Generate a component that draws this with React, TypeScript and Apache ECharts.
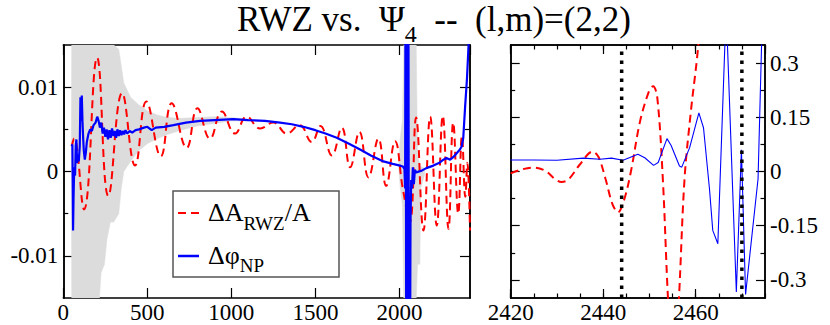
import React, { useEffect, useRef } from "react";
import * as echarts from "echarts";

const FONT = "Times New Roman";

// ---------- data: left panel ----------
const leftXRange = [0, 2420];
const leftYRange = [-0.015, 0.015];
const leftXInterval = 500;
const leftYMajor = [-0.01, 0, 0.01];
const leftYMinor = [-0.005, 0.005];

// grey envelope [x, low, high]
const bandEarly: number[][] = [
  [48, 0.003, 0.0031],
  [50, -0.015, 0.015],
  [215, -0.015, 0.015],
  [225, -0.012, 0.015],
  [245, -0.011, 0.015],
  [260, -0.008, 0.015],
  [280, -0.006, 0.015],
  [300, -0.006, 0.015],
  [330, -0.005, 0.0145],
  [345, -0.002, 0.0125],
  [360, 0.0, 0.0105],
  [400, 0.0012, 0.0088],
  [450, 0.0025, 0.0079],
  [500, 0.0033, 0.0072],
  [560, 0.0039, 0.0067],
  [620, 0.0044, 0.0064],
  [700, 0.0049, 0.0063],
  [800, 0.0054, 0.0064],
  [900, 0.0057, 0.0065],
  [1000, 0.006, 0.0064],
  [1100, 0.006, 0.0062],
];
const bandLate: number[][] = [
  [1995, 0.0006, 0.001],
  [2005, -0.002, 0.004],
  [2018, -0.004, 0.006],
  [2026, -0.015, 0.015],
  [2100, -0.015, 0.015],
  [2108, -0.011, 0.002],
  [2122, -0.011, 0.0008],
  [2126, -0.002, 0.0006],
  [2150, -0.0004, 0.0004],
];

// Delta A_RWZ / A  (red dashed)
const ampLeft: number[][] = [
  [50, 0.003], [64, 0.0039], [123, -0.0045], [201, 0.0135], [268, -0.0029],
  [350, 0.0093], [427, 0.0007], [494, 0.0083], [580, 0.0018], [645, 0.0081],
  [734, 0.0028], [798, 0.0075], [873, 0.0039], [943, 0.0071], [1022, 0.0045],
  [1092, 0.0065], [1171, 0.0051], [1250, 0.0058], [1330, 0.0045], [1405, 0.0055],
  [1478, 0.0035], [1530, 0.0054], [1598, 0.0019], [1657, 0.0052], [1707, 0.0005],
  [1762, 0.0047], [1816, -0.0007], [1875, 0.0039], [1921, -0.0017], [1974, 0.0036],
  [2020, -0.002], [2062, -0.006], [2099, 0.0064], [2143, -0.007], [2183, 0.0065],
  [2222, -0.0064], [2258, 0.0066], [2292, -0.0068], [2320, 0.0058], [2350, -0.005],
  [2372, 0.0042], [2392, -0.003], [2404, 0.001], [2420, -0.007],
];

// Delta phi_NP (blue)
const phaseLeft: number[][] = [
  [50, 0.003], [54, 0.0032], [56, -0.001], [58, -0.007], [61, -0.003], [65, 0.0005],
  [70, -0.0005], [74, 0.003], [78, 0.0038], [82, 0.001], [86, 0.002], [92, 0.0012],
  [98, 0.003], [102, 0.0088], [106, 0.006], [110, 0.009], [114, 0.006], [118, 0.004],
  [122, 0.0025], [128, 0.0014], [134, 0.0022], [140, 0.0035], [150, 0.0045],
  [160, 0.005], [170, 0.0048], [180, 0.0055], [192, 0.0058], [202, 0.0065],
  [210, 0.006], [218, 0.0052], [226, 0.0058], [234, 0.0045], [242, 0.0052],
  [250, 0.0041], [258, 0.005], [266, 0.0038], [274, 0.0049], [282, 0.004],
  [290, 0.0051], [298, 0.0042], [306, 0.0048], [314, 0.004], [322, 0.005],
  [330, 0.0042], [338, 0.0049], [346, 0.0043], [354, 0.0048], [362, 0.0044],
  [370, 0.0049], [380, 0.0045], [395, 0.0048], [410, 0.0046], [430, 0.0049],
  [450, 0.005], [480, 0.0052], [500, 0.0053], [526, 0.0049], [550, 0.0052],
  [600, 0.0053], [655, 0.0055], [730, 0.0058], [814, 0.006], [900, 0.0061],
  [1012, 0.0062], [1100, 0.0061], [1200, 0.006], [1290, 0.0058], [1360, 0.0056],
  [1429, 0.0053], [1500, 0.0049], [1560, 0.0045], [1627, 0.004], [1700, 0.0033],
  [1766, 0.0026], [1830, 0.0019], [1905, 0.0012], [1960, 0.0009], [2004, 0.0007],
  [2020, 0.0006], [2030, 0.0003], [2034, -0.002], [2037, 0.03], [2041, -0.03],
  [2045, 0.03], [2049, -0.03], [2053, 0.03], [2057, -0.03], [2062, -0.03],
  [2066, -0.006], [2070, -0.001], [2075, -0.002], [2080, 0.0005], [2086, -0.0015],
  [2092, 0.0002], [2100, -0.0001], [2133, 0.0001], [2160, 0.0004], [2202, 0.0007],
  [2235, 0.001], [2262, 0.0014], [2280, 0.0016], [2302, 0.0014], [2320, 0.0017],
  [2342, 0.0022], [2360, 0.0026], [2371, 0.003], [2380, 0.004], [2391, 0.0077],
  [2402, 0.011], [2411, 0.0148], [2418, 0.02],
];

// ---------- data: right panel ----------
const rightXRange = [2420, 2475];
const rightYRange = [-0.35, 0.35];
const rightXMajorInterval = 20;
const rightXMinorInterval = 5;
const rightYMajor = [-0.3, -0.15, 0, 0.15, 0.3];
const rightYMinor = [-0.225, -0.075, 0.075, 0.225];
const markerTimes = [2444, 2470];

const ampRight: number[][] = [
  [2420, -0.005], [2422.5, 0.006], [2425, 0.011], [2427.5, 0.002], [2429.5, -0.02],
  [2431, -0.029], [2432.5, -0.022], [2435, 0.02], [2437.7, 0.055], [2439, 0.04],
  [2440.5, -0.02], [2442, -0.09], [2443.2, -0.113], [2444.5, -0.08], [2446, 0.0],
  [2448, 0.14], [2450, 0.225], [2450.8, 0.236], [2451.7, 0.205], [2452.9, -0.02],
  [2454, -0.347], [2455.2, -0.6], [2456.4, -0.347], [2457.6, -0.02], [2459, 0.17],
  [2460.5, 0.34], [2462, 0.6],
];

const phaseRight: number[][] = [
  [2420, 0.032], [2425, 0.032], [2430, 0.031], [2435.7, 0.037], [2439.3, 0.034],
  [2441.8, 0.037], [2444.3, 0.031], [2447.5, 0.048], [2449, 0.038], [2450.9, 0.017],
  [2451.9, 0.025], [2453.8, 0.091], [2454.7, 0.072], [2456.5, 0.015], [2457, 0.012],
  [2458.7, 0.066], [2460.7, 0.162], [2461.7, 0.121], [2463, -0.049], [2463.7, -0.163],
  [2464.8, -0.2], [2466.6, 0.45], [2468.8, -0.333], [2469.9, 0.06], [2470.8, -0.34],
  [2473.5, -0.02], [2474.3, 0.37], [2475, 0.7],
];

// ---------- layout ----------
const G0 = { left: 63.3, top: 45, width: 406.7, height: 253 };
const G1 = { left: 510.7, top: 45, width: 254.3, height: 253 };

const plain = (v: number) => String(v);

function mkAxis(o: any) {
  const axis: any = {
    type: "value",
    gridIndex: o.grid,
    position: o.position,
    min: o.min,
    max: o.max,
    axisLine: { show: true, onZero: false, lineStyle: { color: "#000", width: 1.5 } },
    axisTick: {
      show: true,
      inside: true,
      length: o.tickLen,
      lineStyle: { color: "#000", width: 1.2 },
    },
    axisLabel: { show: false },
    splitLine: { show: false },
    minorTick: { show: false },
    minorSplitLine: { show: false },
  };
  if (o.interval !== undefined) axis.interval = o.interval;
  if (o.tickValues) axis.axisTick.customValues = o.tickValues;
  if (o.labels) {
    axis.axisLabel = {
      show: true,
      margin: o.margin,
      fontSize: 23,
      fontFamily: FONT,
      color: "#000",
      formatter: plain,
      showMaxLabel: o.showMax !== false,
      showMinLabel: true,
    };
    if (o.lineHeight) axis.axisLabel.lineHeight = o.lineHeight;
    if (o.labelValues) axis.axisLabel.customValues = o.labelValues;
  }
  return axis;
}

function bandSeries(seg: number[][]) {
  return {
    type: "custom",
    xAxisIndex: 0,
    yAxisIndex: 0,
    silent: true,
    clip: true,
    z: 1,
    data: seg,
    encode: { x: 0, y: [1, 2] },
    renderItem: (params: any, api: any) => {
      if (params.dataIndex !== 0) return null;
      const pts: number[][] = [];
      for (let i = 0; i < seg.length; i++) pts.push(api.coord([seg[i][0], seg[i][2]]));
      for (let i = seg.length - 1; i >= 0; i--) pts.push(api.coord([seg[i][0], seg[i][1]]));
      return {
        type: "polygon",
        shape: { points: pts },
        style: { fill: "#dcdcdc", stroke: "#dcdcdc", lineWidth: 0.5 },
      };
    },
  };
}

export default function App() {
  const ref = useRef<HTMLDivElement>(null);
  useEffect(() => {
    if (!ref.current) return;
    const chart = echarts.init(ref.current, null, { renderer: "svg" });
    const mainTok = { fontSize: 35, fontFamily: FONT, lineHeight: 35, verticalAlign: "top" };
    const subTok = { fontSize: 24, fontFamily: FONT, lineHeight: 24, verticalAlign: "top", padding: [20, 0, 0, 0] };
    const legMain = { fontSize: 26, fontFamily: FONT, lineHeight: 26, verticalAlign: "top" };
    const legSub = { fontSize: 19, fontFamily: FONT, lineHeight: 19, verticalAlign: "top", padding: [14, 0, 0, 0] };

    const option: any = {
      animation: false,
      grid: [
        { ...G0, outerBoundsMode: "none" },
        { ...G1, outerBoundsMode: "none" },
      ],
      xAxis: [
        mkAxis({ grid: 0, position: "bottom", min: leftXRange[0], max: leftXRange[1], interval: leftXInterval, tickLen: 10, labels: true, margin: 6.5, lineHeight: 16, showMax: false }),
        mkAxis({ grid: 0, position: "top", min: leftXRange[0], max: leftXRange[1], interval: leftXInterval, tickLen: 10 }),
        mkAxis({ grid: 1, position: "bottom", min: rightXRange[0], max: rightXRange[1], interval: rightXMajorInterval, tickLen: 9, labels: true, margin: 6.5, lineHeight: 16, showMax: false }),
        mkAxis({ grid: 1, position: "bottom", min: rightXRange[0], max: rightXRange[1], interval: rightXMinorInterval, tickLen: 4.5 }),
        mkAxis({ grid: 1, position: "top", min: rightXRange[0], max: rightXRange[1], interval: rightXMajorInterval, tickLen: 9 }),
        mkAxis({ grid: 1, position: "top", min: rightXRange[0], max: rightXRange[1], interval: rightXMinorInterval, tickLen: 4.5 }),
      ],
      yAxis: [
        mkAxis({ grid: 0, position: "left", min: leftYRange[0], max: leftYRange[1], tickValues: leftYMajor, labelValues: leftYMajor, tickLen: 10, labels: true, margin: 5 }),
        mkAxis({ grid: 0, position: "left", min: leftYRange[0], max: leftYRange[1], tickValues: leftYMinor, tickLen: 5 }),
        mkAxis({ grid: 0, position: "right", min: leftYRange[0], max: leftYRange[1], tickValues: leftYMajor, tickLen: 10 }),
        mkAxis({ grid: 0, position: "right", min: leftYRange[0], max: leftYRange[1], tickValues: leftYMinor, tickLen: 5 }),
        mkAxis({ grid: 1, position: "right", min: rightYRange[0], max: rightYRange[1], tickValues: rightYMajor, labelValues: rightYMajor, tickLen: 9, labels: true, margin: 5 }),
        mkAxis({ grid: 1, position: "right", min: rightYRange[0], max: rightYRange[1], tickValues: rightYMinor, tickLen: 4.5 }),
        mkAxis({ grid: 1, position: "left", min: rightYRange[0], max: rightYRange[1], tickValues: rightYMajor, tickLen: 9 }),
        mkAxis({ grid: 1, position: "left", min: rightYRange[0], max: rightYRange[1], tickValues: rightYMinor, tickLen: 4.5 }),
      ],
      series: [
        bandSeries(bandEarly),
        bandSeries(bandLate),
        {
          type: "line", xAxisIndex: 0, yAxisIndex: 0, data: ampLeft, smooth: 0.45,
          symbol: "none", silent: true, clip: true, z: 2,
          lineStyle: { color: "#ff0000", width: 2, type: [8, 5] },
        },
        {
          type: "line", xAxisIndex: 0, yAxisIndex: 0, data: phaseLeft, smooth: false,
          symbol: "none", silent: true, clip: true, z: 3,
          lineStyle: { color: "#0000ff", width: 2.2 },
        },
        {
          type: "line", xAxisIndex: 2, yAxisIndex: 4, data: ampRight, smooth: 0.35,
          symbol: "none", silent: true, clip: true, z: 2,
          lineStyle: { color: "#ff0000", width: 2, type: [8, 5] },
        },
        {
          type: "line", xAxisIndex: 2, yAxisIndex: 4, data: phaseRight, smooth: false,
          symbol: "none", silent: true, clip: true, z: 3,
          lineStyle: { color: "#0000ff", width: 1.1 },
        },
        ...markerTimes.map((t) => ({
          type: "line", xAxisIndex: 2, yAxisIndex: 4,
          data: [[t, rightYRange[0]], [t, rightYRange[1]]],
          symbol: "none", silent: true, clip: true, z: 4,
          lineStyle: { color: "#000", width: 3.5, type: [3.5, 5.5] },
        })),
      ],
      graphic: [
        {
          type: "text",
          x: 237,
          y: 2,
          z: 10,
          style: {
            text: "{m|RWZ vs.  Ψ}{s|4}{m|  --  (l,m)=(2,2)}",
            rich: { m: mainTok, s: subTok },
            fontFamily: FONT,
            fontSize: 35,
            fill: "#000",
          },
        },
        {
          type: "rect",
          z: 10,
          shape: { x: 173, y: 191, width: 166, height: 86 },
          style: { fill: "#fff", stroke: "#555", lineWidth: 1.5 },
        },
        {
          type: "line",
          z: 11,
          shape: { x1: 178, y1: 213, x2: 199, y2: 213 },
          style: { stroke: "#ff0000", lineWidth: 2, lineDash: [8, 5] },
        },
        {
          type: "text",
          z: 11,
          x: 208,
          y: 199.5,
          style: {
            text: "{m|ΔA}{s|RWZ}{m|/A}",
            rich: { m: legMain, s: legSub },
            fontFamily: FONT,
            fontSize: 26,
            fill: "#000",
          },
        },
        {
          type: "line",
          z: 11,
          shape: { x1: 178, y1: 256, x2: 199, y2: 256 },
          style: { stroke: "#0000ff", lineWidth: 2.5 },
        },
        {
          type: "text",
          z: 11,
          x: 208,
          y: 242,
          style: {
            text: "{m|Δφ}{s|NP}",
            rich: { m: legMain, s: legSub },
            fontFamily: FONT,
            fontSize: 26,
            fill: "#000",
          },
        },
      ],
    };
    chart.setOption(option);
    return () => chart.dispose();
  }, []);
  return (
    <div
      ref={ref}
      style={{ position: "fixed", left: 0, top: 0, width: 830, height: 325, background: "#fff" }}
    />
  );
}
